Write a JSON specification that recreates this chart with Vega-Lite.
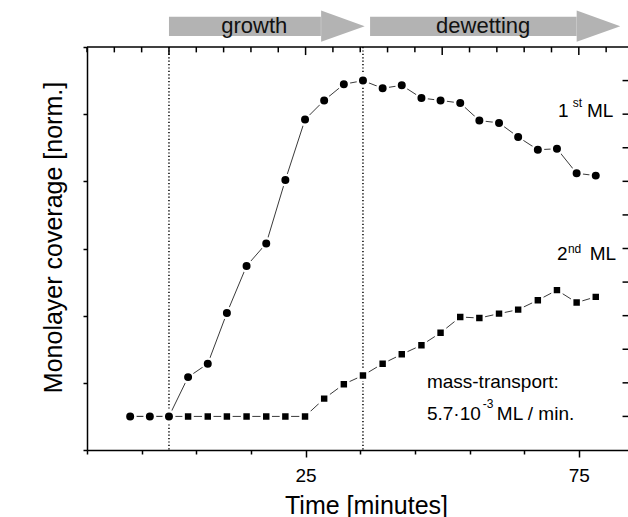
{
  "$schema": "https://vega.github.io/schema/vega-lite/v6.json",
  "width": 541,
  "height": 403,
  "autosize": {"type": "none"},
  "padding": {"left": 87, "top": 47, "right": 0, "bottom": 67},
  "background": "white",
  "config": {
    "view": {"stroke": null},
    "font": "Liberation Sans",
    "axis": {
      "grid": false,
      "domainColor": "black",
      "domainWidth": 1.5,
      "tickColor": "black",
      "tickWidth": 1.5,
      "labelColor": "black",
      "labelFont": "Liberation Sans",
      "labelFontSize": 19,
      "titleFont": "Liberation Sans",
      "titleFontSize": 25,
      "titleFontWeight": "normal",
      "titleColor": "black",
      "labelOverlap": false,
      "labelBound": false,
      "labelFlush": false
    }
  },
  "datasets": {
    "series": [
      {"s": "2nd ML", "t": -7.1, "v": 0},
      {"s": "2nd ML", "t": -3.5, "v": 0},
      {"s": "2nd ML", "t": 0, "v": 0},
      {"s": "2nd ML", "t": 3.5, "v": 0},
      {"s": "2nd ML", "t": 7.1, "v": 0},
      {"s": "2nd ML", "t": 10.6, "v": 0},
      {"s": "2nd ML", "t": 14.2, "v": 0},
      {"s": "2nd ML", "t": 17.8, "v": 0},
      {"s": "2nd ML", "t": 21.3, "v": 0},
      {"s": "2nd ML", "t": 24.9, "v": 0},
      {"s": "2nd ML", "t": 28.4, "v": 0.053},
      {"s": "2nd ML", "t": 32.0, "v": 0.096},
      {"s": "2nd ML", "t": 35.5, "v": 0.122},
      {"s": "2nd ML", "t": 39.1, "v": 0.157},
      {"s": "2nd ML", "t": 42.6, "v": 0.185},
      {"s": "2nd ML", "t": 46.2, "v": 0.212},
      {"s": "2nd ML", "t": 49.7, "v": 0.249},
      {"s": "2nd ML", "t": 53.3, "v": 0.296},
      {"s": "2nd ML", "t": 56.8, "v": 0.293},
      {"s": "2nd ML", "t": 60.4, "v": 0.306},
      {"s": "2nd ML", "t": 63.9, "v": 0.318},
      {"s": "2nd ML", "t": 67.5, "v": 0.346},
      {"s": "2nd ML", "t": 71.0, "v": 0.376},
      {"s": "2nd ML", "t": 74.6, "v": 0.339},
      {"s": "2nd ML", "t": 78.1, "v": 0.356},
      {"s": "1st ML", "t": -7.1, "v": 0},
      {"s": "1st ML", "t": -3.5, "v": 0},
      {"s": "1st ML", "t": 0, "v": 0},
      {"s": "1st ML", "t": 3.5, "v": 0.117},
      {"s": "1st ML", "t": 7.1, "v": 0.157},
      {"s": "1st ML", "t": 10.6, "v": 0.308},
      {"s": "1st ML", "t": 14.2, "v": 0.448},
      {"s": "1st ML", "t": 17.8, "v": 0.515},
      {"s": "1st ML", "t": 21.3, "v": 0.704},
      {"s": "1st ML", "t": 24.9, "v": 0.884},
      {"s": "1st ML", "t": 28.4, "v": 0.941},
      {"s": "1st ML", "t": 32.0, "v": 0.989},
      {"s": "1st ML", "t": 35.5, "v": 1.0},
      {"s": "1st ML", "t": 39.1, "v": 0.977},
      {"s": "1st ML", "t": 42.6, "v": 0.986},
      {"s": "1st ML", "t": 46.2, "v": 0.948},
      {"s": "1st ML", "t": 49.7, "v": 0.941},
      {"s": "1st ML", "t": 53.3, "v": 0.933},
      {"s": "1st ML", "t": 56.8, "v": 0.881},
      {"s": "1st ML", "t": 60.4, "v": 0.874},
      {"s": "1st ML", "t": 63.9, "v": 0.832},
      {"s": "1st ML", "t": 67.5, "v": 0.794},
      {"s": "1st ML", "t": 71.0, "v": 0.797},
      {"s": "1st ML", "t": 74.6, "v": 0.724},
      {"s": "1st ML", "t": 78.1, "v": 0.717}
    ],
    "phases": [
      {"phase": "growth", "start": 0, "headStart": 27.8, "head": 31.83, "mid": 15.6},
      {"phase": "dewetting", "start": 36.8, "headStart": 74.6, "head": 78.6, "mid": 57.5}
    ],
    "markers": [{"t": 0}, {"t": 35.5}],
    "frame": [{"edge": "top"}],
    "xticks": [{"t": -15}, {"t": -10}, {"t": -5}, {"t": 0}, {"t": 5}, {"t": 10}, {"t": 15}, {"t": 20}, {"t": 25}, {"t": 30}, {"t": 35}, {"t": 40}, {"t": 45}, {"t": 50}, {"t": 55}, {"t": 60}, {"t": 65}, {"t": 70}, {"t": 75}, {"t": 80}],
    "yticks": [{"v": 0}, {"v": 0.1}, {"v": 0.2}, {"v": 0.3}, {"v": 0.4}, {"v": 0.5}, {"v": 0.6}, {"v": 0.7}, {"v": 0.8}, {"v": 0.9}, {"v": 1.0}],
    "notes": [
      {"t": 71.2, "v": 0.892, "label": "1"},
      {"t": 76.5, "v": 0.892, "label": "ML"},
      {"t": 71.0, "v": 0.466, "label": "2"},
      {"t": 77.0, "v": 0.466, "label": "ML"},
      {"t": 47.2, "v": 0.085, "label": "mass-transport:"},
      {"t": 47.2, "v": -0.01, "label": "5.7·10"},
      {"t": 60.0, "v": -0.01, "label": "ML / min."}
    ],
    "sups": [
      {"t": 73.9, "v": 0.922, "label": "st"},
      {"t": 73.0, "v": 0.487, "label": "nd"},
      {"t": 57.4, "v": 0.026, "label": "-3"}
    ]
  },
  "layer": [
    {
      "data": {"name": "series"},
      "mark": {"type": "line", "color": "#3a3a3a", "strokeWidth": 1},
      "encoding": {
        "x": {
          "field": "t", "type": "quantitative", "title": "Time [minutes]",
          "scale": {"domain": [-15, 84], "nice": false, "zero": false},
          "axis": {
            "orient": "bottom",
            "title": "Time [minutes]",
            "titlePadding": 8,
            "titleX": 279,
            "values": [-15, -10, -5, 0, 5, 10, 15, 20, 25, 30, 35, 40, 45, 50, 55, 60, 65, 70, 75, 80],
            "labelExpr": "datum.value % 25 === 0 ? datum.label : ''",
            "labelOverlap": false,
            "labelBound": false,
            "labelFlush": false,
            "labelPadding": 9,
            "tickSize": {"condition": {"test": "datum.value % 25 === 0", "value": 7}, "value": 4}
          }
        },
        "y": {
          "field": "v", "type": "quantitative", "title": "Monolayer coverage [norm.]",
          "scale": {"domain": [-0.1, 1.1], "nice": false, "zero": false},
          "axis": {
            "orient": "left",
            "title": "Monolayer coverage [norm.]",
            "titlePadding": 13,
            "titleY": 190,
            "values": [-0.1, 0, 0.1, 0.2, 0.3, 0.4, 0.5, 0.6, 0.7, 0.8, 0.9, 1.0, 1.1],
            "labelExpr": "(abs(round(datum.value * 10)) % 2 === 0 && datum.value > -0.05 && datum.value < 1.05) ? format(datum.value, '.1f') : ''",
            "labelOverlap": false,
            "labelBound": false,
            "labelFlush": false,
            "labelPadding": 4,
            "tickSize": {"condition": {"test": "abs(round(datum.value * 10)) % 2 === 0", "value": 7}, "value": 4}
          }
        },
        "detail": {"field": "s"}
      }
    },
    {
      "data": {"name": "markers"},
      "mark": {"type": "rule", "color": "black", "strokeWidth": 1.5, "strokeDash": [1.2, 2.2]},
      "encoding": {
        "x": {"field": "t", "type": "quantitative", "title": "Time [minutes]", "scale": {"domain": [-15, 84], "nice": false, "zero": false}}
      }
    },
    {
      "data": {"name": "frame"},
      "mark": {"type": "rule", "color": "black", "strokeWidth": 1.5},
      "encoding": {
        "y": {"datum": 1.1, "type": "quantitative", "title": "Monolayer coverage [norm.]", "scale": {"domain": [-0.1, 1.1], "nice": false, "zero": false}}
      }
    },
    {
      "data": {"name": "xticks"},
      "transform": [{"filter": "datum.t % 25 !== 0"}],
      "mark": {"type": "rule", "color": "black", "strokeWidth": 1.5},
      "encoding": {
        "x": {"field": "t", "type": "quantitative", "title": "Time [minutes]", "scale": {"domain": [-15, 84], "nice": false, "zero": false}},
        "y": {"datum": 1.1, "type": "quantitative", "title": "Monolayer coverage [norm.]", "scale": {"domain": [-0.1, 1.1], "nice": false, "zero": false}},
        "y2": {"datum": 1.084}
      }
    },
    {
      "data": {"name": "xticks"},
      "transform": [{"filter": "datum.t % 25 === 0"}],
      "mark": {"type": "rule", "color": "black", "strokeWidth": 1.5},
      "encoding": {
        "x": {"field": "t", "type": "quantitative", "title": "Time [minutes]", "scale": {"domain": [-15, 84], "nice": false, "zero": false}},
        "y": {"datum": 1.1, "type": "quantitative", "title": "Monolayer coverage [norm.]", "scale": {"domain": [-0.1, 1.1], "nice": false, "zero": false}},
        "y2": {"datum": 1.076}
      }
    },
    {
      "data": {"name": "yticks"},
      "mark": {"type": "rule", "color": "black", "strokeWidth": 1.5},
      "encoding": {
        "x": {"datum": 84, "type": "quantitative", "title": "Time [minutes]", "scale": {"domain": [-15, 84], "nice": false, "zero": false}},
        "x2": {"datum": 83.0},
        "y": {"field": "v", "type": "quantitative", "title": "Monolayer coverage [norm.]", "scale": {"domain": [-0.1, 1.1], "nice": false, "zero": false}}
      }
    },
    {
      "data": {"name": "series"},
      "mark": {"type": "point", "filled": true, "color": "black", "stroke": "white", "strokeWidth": 2.5, "opacity": 1},
      "encoding": {
        "x": {"field": "t", "type": "quantitative", "title": "Time [minutes]", "scale": {"domain": [-15, 84], "nice": false, "zero": false}},
        "y": {"field": "v", "type": "quantitative", "title": "Monolayer coverage [norm.]", "scale": {"domain": [-0.1, 1.1], "nice": false, "zero": false}},
        "shape": {"field": "s", "type": "nominal", "scale": {"domain": ["1st ML", "2nd ML"], "range": ["circle", "square"]}, "legend": null},
        "size": {"field": "s", "type": "nominal", "scale": {"domain": ["1st ML", "2nd ML"], "range": [110, 80]}, "legend": null},
        "order": {"field": "s", "sort": "descending"}
      }
    },
    {
      "data": {"name": "phases"},
      "mark": {"type": "rect", "color": "#b3b3b3"},
      "encoding": {
        "x": {"field": "start", "type": "quantitative", "title": "Time [minutes]", "scale": {"domain": [-15, 84], "nice": false, "zero": false}},
        "x2": {"field": "headStart"},
        "y": {"datum": 1.133, "type": "quantitative", "title": "Monolayer coverage [norm.]", "scale": {"domain": [-0.1, 1.1], "nice": false, "zero": false}},
        "y2": {"datum": 1.19}
      }
    },
    {
      "data": {"name": "phases"},
      "mark": {"type": "point", "filled": true, "color": "#b3b3b3", "opacity": 1, "shape": "M-1,-0.72L1,0L-1,0.72Z", "size": 1900},
      "encoding": {
        "x": {"field": "head", "type": "quantitative", "title": "Time [minutes]", "scale": {"domain": [-15, 84], "nice": false, "zero": false}},
        "y": {"datum": 1.162, "type": "quantitative", "title": "Monolayer coverage [norm.]", "scale": {"domain": [-0.1, 1.1], "nice": false, "zero": false}}
      }
    },
    {
      "data": {"name": "phases"},
      "mark": {"type": "text", "fontSize": 22, "color": "#111", "align": "center", "baseline": "middle", "font": "Liberation Sans"},
      "encoding": {
        "x": {"field": "mid", "type": "quantitative", "title": "Time [minutes]", "scale": {"domain": [-15, 84], "nice": false, "zero": false}},
        "y": {"datum": 1.162, "type": "quantitative", "title": "Monolayer coverage [norm.]", "scale": {"domain": [-0.1, 1.1], "nice": false, "zero": false}},
        "text": {"field": "phase"}
      }
    },
    {
      "data": {"name": "notes"},
      "mark": {"type": "text", "fontSize": 19, "color": "black", "align": "left", "baseline": "alphabetic", "font": "Liberation Sans"},
      "encoding": {
        "x": {"field": "t", "type": "quantitative", "title": "Time [minutes]", "scale": {"domain": [-15, 84], "nice": false, "zero": false}},
        "y": {"field": "v", "type": "quantitative", "title": "Monolayer coverage [norm.]", "scale": {"domain": [-0.1, 1.1], "nice": false, "zero": false}},
        "text": {"field": "label"}
      }
    },
    {
      "data": {"name": "sups"},
      "mark": {"type": "text", "fontSize": 12, "color": "black", "align": "left", "baseline": "alphabetic", "font": "Liberation Sans"},
      "encoding": {
        "x": {"field": "t", "type": "quantitative", "title": "Time [minutes]", "scale": {"domain": [-15, 84], "nice": false, "zero": false}},
        "y": {"field": "v", "type": "quantitative", "title": "Monolayer coverage [norm.]", "scale": {"domain": [-0.1, 1.1], "nice": false, "zero": false}},
        "text": {"field": "label"}
      }
    }
  ]
}
